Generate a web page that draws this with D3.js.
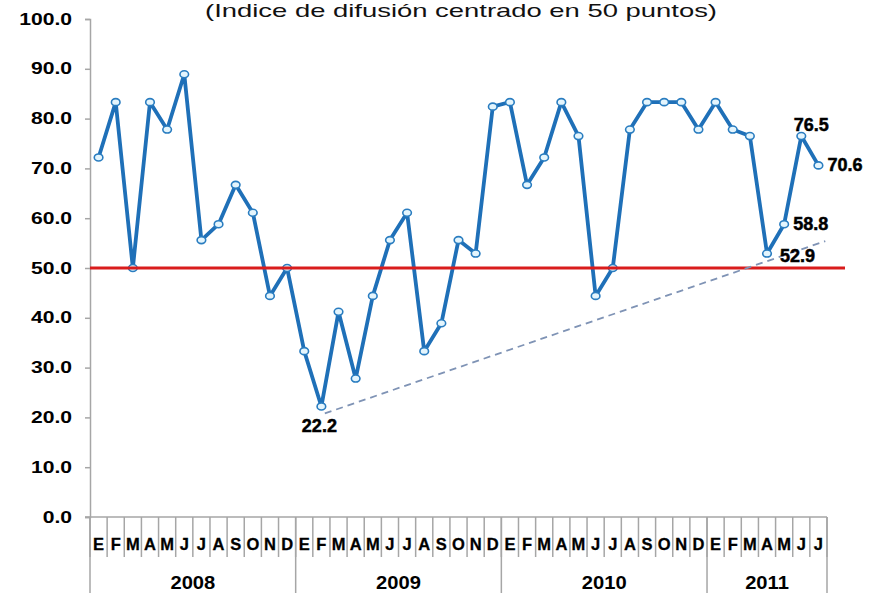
<!DOCTYPE html>
<html><head><meta charset="utf-8">
<script src="https://cdn.jsdelivr.net/npm/d3@7"></script>
<style>body{margin:0;background:#fff} svg{display:block}</style>
</head><body>
<svg id="c" width="869" height="593"></svg>
<script>
// ---- data ----
const title = "(Indice de difusión centrado en 50 puntos)";
const monthLetters = ["E","F","M","A","M","J","J","A","S","O","N","D",
                      "E","F","M","A","M","J","J","A","S","O","N","D",
                      "E","F","M","A","M","J","J","A","S","O","N","D",
                      "E","F","M","A","M","J","J"];
const years = ["2008","2009","2010","2011"];
const monthsPerYear = [12,12,12,7];
const values = [72.2,83.3,50.0,83.3,77.8,88.9,55.6,58.8,66.7,61.1,44.4,50.0,
                33.3,22.2,41.2,27.8,44.4,55.6,61.1,33.3,38.9,55.6,52.9,82.4,
                83.3,66.7,72.2,83.3,76.5,44.4,50.0,77.8,83.3,83.3,83.3,77.8,
                83.3,77.8,76.5,52.9,58.8,76.5,70.6];
const yTicks = [0,10,20,30,40,50,60,70,80,90,100];
const refValue = 50;
const trendIdx = [13.2, 42.4];
const trendVal = [20.8, 55.4];
const labeledIdx = [13, 39, 40, 41, 42];
const labelPos = ["below","rightLow","right","above","right"];

// ---- chart ----
const svg = d3.select("#c");
const W = 869, H = 593;
const x = d3.scaleBand().domain(d3.range(values.length)).range([90, 827]).paddingInner(0).paddingOuter(0);
const bw = x.bandwidth();
const xc = i => x(i) + bw/2;
const xLin = d3.scaleLinear().domain([0, values.length-1]).range([xc(0), xc(values.length-1)]);
const y = d3.scaleLinear().domain([0,100]).range([517, 19]);

const grey = "#a6a6a6";
const font = "'Liberation Sans', Arial, sans-serif";

// title
svg.append("text").attr("x", 461).attr("y", 17).attr("text-anchor","middle")
  .attr("font-family", font).attr("font-size", 19).attr("fill","#111")
  .attr("textLength", 512).attr("lengthAdjust","spacingAndGlyphs").text(title);

// y axis
const yAxis = svg.append("g").attr("transform","translate(90,0)")
  .call(d3.axisLeft(y).tickValues(yTicks).tickSize(5).tickFormat(d3.format(".1f")));
yAxis.select(".domain").attr("stroke", grey).attr("stroke-width",1.5);
yAxis.selectAll(".tick line").attr("stroke", grey).attr("stroke-width",1.5);
yAxis.selectAll(".tick text").remove();
yTicks.forEach(t => {
  svg.append("text").attr("transform", `translate(72,${y(t)+5.5}) scale(1.32,1)`)
    .attr("text-anchor","end").attr("font-family", font).attr("font-weight","bold")
    .attr("font-size", 16).attr("fill","#000").text(d3.format(".1f")(t));
});

// x axis
svg.append("line").attr("x1",85).attr("x2",827).attr("y1",y(0)).attr("y2",y(0))
  .attr("stroke",grey).attr("stroke-width",1.5);
// month tick lines
d3.range(values.length+1).forEach(i => {
  const xx = i < values.length ? x(i) : x(values.length-1)+bw;
  svg.append("line").attr("x1",xx).attr("x2",xx).attr("y1",y(0)).attr("y2",557)
    .attr("stroke",grey).attr("stroke-width",1.5);
});
// year separators
let acc = 0;
const sepIdx = [0];
monthsPerYear.forEach(n => { acc += n; sepIdx.push(acc); });
sepIdx.forEach(i => {
  const xx = i < values.length ? x(i) : x(values.length-1)+bw;
  svg.append("line").attr("x1",xx).attr("x2",xx).attr("y1",y(0)).attr("y2",H)
    .attr("stroke",grey).attr("stroke-width",1.5);
});
// month letters
svg.selectAll("text.m").data(monthLetters).join("text").attr("class","m")
  .attr("x",(d,i)=>xc(i)).attr("y",549.5).attr("text-anchor","middle")
  .attr("font-family",font).attr("font-weight","bold").attr("font-size",16.5).attr("fill","#000")
  .attr("stroke","#000").attr("stroke-width",0.3)
  .text(d=>d);
// year labels
years.forEach((yr,k) => {
  const a = x(sepIdx[k]);
  const bi = sepIdx[k+1];
  const b = bi < values.length ? x(bi) : x(values.length-1)+bw;
  svg.append("text").attr("transform",`translate(${(a+b)/2},589) scale(1.12,1)`)
    .attr("text-anchor","middle").attr("font-family",font).attr("font-weight","bold")
    .attr("font-size",18).attr("fill","#000").text(yr);
});

// series line
const line = d3.line().x((d,i)=>xc(i)).y(d=>y(d));
svg.append("path").datum(values).attr("d",line).attr("fill","none")
  .attr("stroke","#1f70b8").attr("stroke-width",3.8).attr("stroke-linejoin","round");
svg.selectAll("ellipse.pt").data(values).join("ellipse").attr("class","pt")
  .attr("cx",(d,i)=>xc(i)).attr("cy",d=>y(d)).attr("rx",4.3).attr("ry",3.5)
  .attr("fill","#e4f5fd").attr("stroke","#2a7dc0").attr("stroke-width",1.6);

// reference line at 50
svg.append("line").attr("x1",90).attr("x2",845).attr("y1",y(refValue)).attr("y2",y(refValue))
  .attr("stroke","#d91c1c").attr("stroke-width",3);

// trend dashed line
svg.append("line").attr("x1",xLin(trendIdx[0])).attr("y1",y(trendVal[0]))
  .attr("x2",xLin(trendIdx[1])).attr("y2",y(trendVal[1]))
  .attr("stroke","#7f93b5").attr("stroke-width",1.8).attr("stroke-dasharray","7,5");

// data labels
const off = {below:[-2,26,"middle"], rightLow:[13,8.5,"start"], right:[9,6,"start"], above:[10,-5,"middle"]};
labeledIdx.forEach((i,k) => {
  const o = off[labelPos[k]];
  svg.append("text").attr("x", xc(i)+o[0]).attr("y", y(values[i])+o[1])
    .attr("text-anchor",o[2]).attr("font-family",font).attr("font-weight","bold")
    .attr("font-size",18).attr("fill","#000").attr("stroke","#000").attr("stroke-width",0.5)
    .text(d3.format(".1f")(values[i]));
});
</script>
</body></html>
